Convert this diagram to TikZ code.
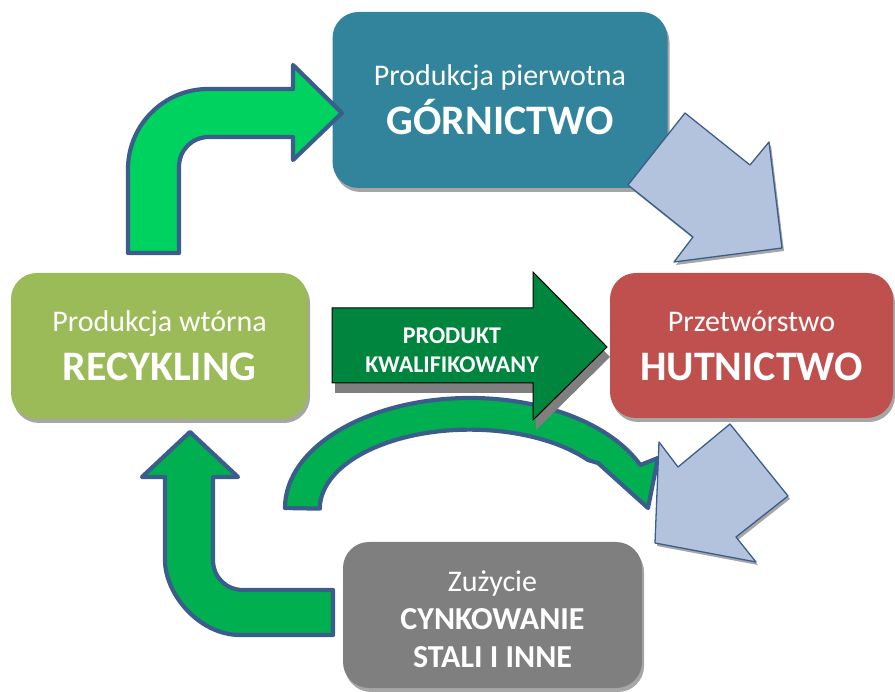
\documentclass[tikz,border=0pt]{standalone}
\usepackage{fontspec}
\setmainfont{Carlito}
\usetikzlibrary{shadows}

\definecolor{boxteal}{HTML}{31849B}
\definecolor{boxolive}{HTML}{9BBB59}
\definecolor{boxred}{HTML}{C0504D}
\definecolor{boxgray}{HTML}{7F7F7F}
\definecolor{arrowblue}{HTML}{B3C3DE}
\definecolor{edgeblue}{HTML}{3B5D8C}
\definecolor{lightgreen}{HTML}{00D260}
\definecolor{midgreen}{HTML}{00B050}
\definecolor{darkgreen}{HTML}{00853E}

\begin{document}
\begin{tikzpicture}[
      x=1pt, y=-1pt,
      every node/.style={text=white, align=center},
      box/.style={rectangle, rounded corners=26pt, inner sep=0pt,
        font=\fontsize{30}{49}\selectfont,
        drop shadow={shadow xshift=2pt, shadow yshift=-4pt, fill=black!35, opacity=1}},
      greenarrow/.style={draw=edgeblue, line width=4.2pt, line join=round},
      bluearrow/.style={fill=arrowblue, draw=edgeblue, line width=1.3pt, line join=round,
        drop shadow={shadow xshift=2pt, shadow yshift=-3pt, fill=black!35, opacity=1}}
    ]
    \useasboundingbox (0,0) rectangle (895,692);

    % Nodes
    \node[box, fill=boxteal, minimum width=335pt, minimum height=176pt] (gornictwo) at (500,100)
      {Produkcja pierwotna\\{\fontsize{42}{49}\selectfont\bfseries GÓRNICTWO}};
    \node[box, fill=boxolive, minimum width=297pt, minimum height=146pt] (recykling) at (159.5,346)
      {Produkcja wtórna\\{\fontsize{42}{49}\selectfont\bfseries RECYKLING}};
    \node[box, fill=boxred, minimum width=283pt, minimum height=145pt] (hutnictwo) at (751.5,345.5)
      {Przetwórstwo\\{\fontsize{42}{49}\selectfont\bfseries HUTNICTWO}};
    \node[box, fill=boxgray, minimum width=299pt, minimum height=146pt,
      font=\fontsize{30}{38}\selectfont] (zuzycie) at (492.5,615)
      {\rule{0pt}{30pt}Zużycie\\{\fontsize{32}{38}\selectfont\bfseries CYNKOWANIE}\\{\fontsize{32}{38}\selectfont\bfseries STALI I INNE}};

    % Arrows
    \filldraw[greenarrow, fill=lightgreen] (128,253) -- (128,169)
      .. controls (128,125) and (164,89) .. (208,89) -- (293,89) -- (293,65) -- (342,113)
      -- (293,160) -- (293,137) -- (209,137) .. controls (192,137) and (179,150) .. (179,167)
      -- (179,253) -- cycle;
    \filldraw[bluearrow] (628,185) -- (685,113) -- (750,165) -- (769,142) -- (782,248)
      -- (674,262) -- (693,237) -- cycle;
    \filldraw[greenarrow, fill=midgreen] (285,508)
      arc[start angle=180, end angle=23, x radius=185pt, y radius=110pt]
      -- (658,458) -- (648,508) -- (598,463) -- (588,460)
      arc[start angle=38, end angle=180, x radius=150pt, y radius=79pt] -- cycle;
    \filldraw[fill=darkgreen, draw=black, line width=1pt,
      drop shadow={shadow xshift=3pt, shadow yshift=-10pt, fill=boxgray, opacity=1}]
      (332,308) -- (533,308) -- (533,272) -- (607,347) -- (533,420) -- (533,383)
      -- (332,383) -- cycle;
    \node[font=\fontsize{24}{29}\selectfont\bfseries] (produkt) at (452,350)
      {PRODUKT\\KWALIFIKOWANY};
    \filldraw[bluearrow] (730,424) -- (788,496) -- (736,537) -- (756,562) -- (655,543)
      -- (659,442) -- (678,467) -- cycle;
    \filldraw[greenarrow, fill=midgreen] (190,432) -- (238,477) -- (213,477) -- (213,560)
      .. controls (213,577) and (226,590) .. (243,590) -- (333,590) -- (333,635)
      -- (240,635) .. controls (199,635) and (165,594) .. (165,560) -- (165,477)
      -- (142,477) -- cycle;
\end{tikzpicture}
\end{document}
